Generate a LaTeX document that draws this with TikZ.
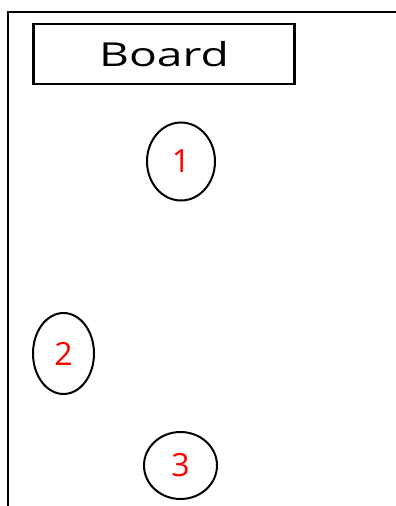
\documentclass[tikz,border=0pt]{standalone}
\usepackage{fontspec}
\setsansfont{Open Sans}
\usetikzlibrary{shapes.geometric}
\definecolor{seatred}{HTML}{FF0000}
\tikzset{
  font=\sffamily,
  wall/.style={draw=black,line width=1.6pt},
  boardbox/.style={draw=black,line width=2.2pt,minimum width=261pt,minimum height=60pt,
                   inner sep=0pt,font=\sffamily\fontsize{33}{35}\selectfont},
  seat/.style={draw=black,line width=2pt,ellipse,inner sep=0pt,text=seatred,
               font=\sffamily\fontsize{32}{34}\selectfont},
}
\begin{document}
\begin{tikzpicture}[x=1pt,y=-1pt]
  \useasboundingbox (0,0) rectangle (396,506);

  % room walls
  \draw[wall] (8,506) -- (8,12) -- (396,12);

  \node[boardbox] (board) at (164,54) {\scalebox{1.4}[1]{Board}};

  \node[seat,minimum width=68pt,minimum height=78pt] (seat1) at (181,161.5) {1};
  \node[seat,minimum width=61pt,minimum height=81pt] (seat2) at (63.5,353.5) {2};
  \node[seat,minimum width=73pt,minimum height=67pt] (seat3) at (180.5,465.5) {3};
\end{tikzpicture}
\end{document}
